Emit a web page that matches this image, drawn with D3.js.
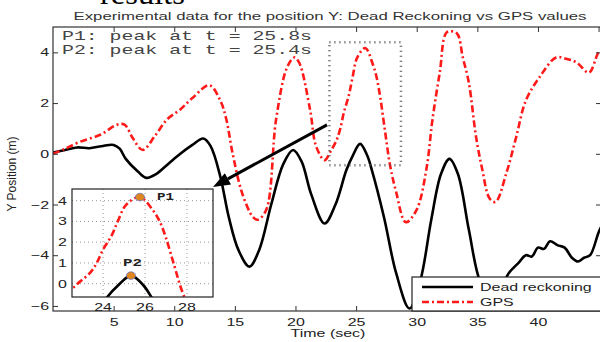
<!DOCTYPE html>
<html><head><meta charset="utf-8">
<script src="https://cdn.jsdelivr.net/npm/d3@7"></script>
<style>
html,body{margin:0;padding:0;background:#fff;}
svg{display:block;}
text{font-family:"Liberation Sans",Arial,Helvetica,sans-serif;}
</style></head>
<body>
<svg id="c" width="600" height="342"></svg>
<script>
// ---------------- data ----------------
const drT = [0,1,2,3,4,5,5.5,6,7,7.7,8.5,9.5,10.5,11.5,12.4,13,13.8,14.5,15.3,16.2,17,18,19,19.8,20.5,21.3,22.4,23.3,24.2,24.7,25.33,25.9,26.3,27.3,28.3,29.4,30.3,31.2,32,32.7,33.4,34.3,35.2,36,36.8,37.6,38.4,39,39.5,40,40.5,41,41.6,42.2,42.8,43.3,43.8,44.3,45,45.3];
const drY = [0.05,0.15,0.25,0.22,0.3,0.35,0.2,-0.2,-0.7,-0.95,-0.8,-0.4,0,0.35,0.6,0.3,-0.9,-2.5,-3.8,-4.45,-3.8,-2,-0.4,0.15,-0.3,-1.6,-2.75,-2.0,-0.64,-0.1,0.39,-0.05,-0.64,-2.5,-4.7,-6.1,-5.0,-2.6,-0.8,-0.2,-0.8,-3.0,-5.0,-5.6,-5.4,-4.7,-4.3,-4.0,-4.05,-3.7,-3.75,-3.45,-3.6,-3.7,-4.1,-4.25,-4.1,-4.0,-3.1,-2.8];

const gpsT = [0,1,2.2,3.9,5.3,5.9,6.6,7.4,8.4,9.4,10.5,11.5,12.9,13.8,14.3,14.8,15.6,16.5,16.9,17.6,18.4,19.3,19.9,20.3,21.2,21.7,22.4,22.9,23.4,23.7,24.0,24.4,24.7,25.1,25.76,26.4,26.7,27.0,27.4,27.8,28.3,29.1,30,30.8,31.3,31.9,32.5,33.3,33.8,34.3,34.9,35.4,36,36.5,37.4,38.2,39,40.1,41.5,42.3,43.2,44.2,45,45.3];
const gpsY = [0,0.2,0.47,0.75,1.15,1.15,0.6,0.15,0.7,1.35,1.75,2.2,2.7,2.1,1.35,0.05,-1.55,-2.5,-2.6,-2.2,1.35,3.4,3.8,3.6,1.75,0.3,-0.25,0.1,0.55,1.0,1.65,2.3,3.0,3.8,4.17,3.5,3.0,2.2,0.85,-0.45,-1.5,-2.7,-2.2,-0.6,1.35,3.2,4.8,4.75,3.8,2.8,0.65,-0.6,-1.75,-1.9,-0.75,0.65,2.1,3.0,3.8,3.75,3.6,3.2,4.0,4.1];

const xTicks = [5,10,15,20,25,30,35,40,45];
const yTicks = [-6,-4,-2,0,2,4];
const insetXTicks = [24,26,28];
const insetYTicks = [0,1,2,3,4];
const peakNames = ["P1","P2"];
const peakT = [25.76,25.33];
const peakY = [4.17,0.39];
const notes = ["P1: peak at t = 25.8s","P2: peak at t = 25.4s"];
const zoomBoxT = [22.8,28.7];
const zoomBoxY = [-0.45,4.4];
const arrowFrom = [22.6,1.14];
const seriesNames = ["Dead reckoning","GPS"];

// ---------------- layout ----------------
const svg = d3.select("#c");
const L=53,R=601,T=27,B=311;
const x = d3.scaleLinear().domain([0,45.2]).range([L,R]);
const y = d3.scaleLinear().domain([-6.2,5.0]).range([B,T]);
const SX = 1.45; // horizontal text stretch
function stretch(sel,f){ sel.each(function(){ const n=this.getComputedTextLength(); this.setAttribute("textLength",n*(f||SX)); this.setAttribute("lengthAdjust","spacingAndGlyphs"); }); }

const drPts = drT.map((t,i)=>[t,drY[i]]);
const gpsPts = gpsT.map((t,i)=>[t,gpsY[i]]);

svg.append("defs").html(`<clipPath id="mainClip"><rect x="${L}" y="${T}" width="${R-L}" height="${B-T}"/></clipPath>`);

// "results" remnant
const rs = svg.append("text").attr("x",100).attr("y",4).attr("font-family","Liberation Serif,Times New Roman,serif")
  .style("font-family","'Liberation Serif','Times New Roman',serif").attr("font-size",30).attr("fill","#000").text("results");
rs.attr("textLength",85).attr("lengthAdjust","spacingAndGlyphs");

// title
svg.append("text").attr("x",330).attr("y",20).attr("text-anchor","middle").attr("font-size",11).attr("fill","#333")
  .text("Experimental data for the position Y: Dead Reckoning vs GPS values")
  .attr("textLength",513).attr("lengthAdjust","spacingAndGlyphs");

// main lines
const line = d3.line().x(d=>x(d[0])).y(d=>y(d[1])).curve(d3.curveCatmullRom.alpha(0.5));
const gm = svg.append("g").attr("clip-path","url(#mainClip)");
gm.append("path").attr("d",line(drPts)).attr("fill","none").attr("stroke","#000").attr("stroke-width",2.6);
gm.append("path").attr("d",line(gpsPts)).attr("fill","none").attr("stroke","#ff1a1a").attr("stroke-width",2.6).attr("stroke-dasharray","7,3,2,3");

// dotted zoom rectangle
svg.append("rect").attr("x",x(zoomBoxT[0])).attr("y",y(zoomBoxY[1]))
  .attr("width",x(zoomBoxT[1])-x(zoomBoxT[0])).attr("height",y(zoomBoxY[0])-y(zoomBoxY[1]))
  .attr("fill","none").attr("stroke","#555").attr("stroke-width",2.5).attr("stroke-dasharray","1,4");

// axes
const ax = svg.append("g");
ax.append("g").attr("transform",`translate(0,${B})`).call(d3.axisBottom(x).tickValues(xTicks).tickSize(-5).tickPadding(7).tickFormat(d=>d===45?"":d));
ax.append("g").attr("transform",`translate(0,${T})`).call(d3.axisTop(x).tickValues(xTicks).tickSize(-5).tickFormat(""));
ax.append("g").attr("transform",`translate(${L},0)`).call(d3.axisLeft(y).tickValues(yTicks).tickSize(-5).tickPadding(4).tickFormat(d=>d<0?"\u2212"+(-d):d));
ax.append("g").attr("transform",`translate(${R},0)`).call(d3.axisRight(y).tickValues(yTicks).tickSize(-5).tickFormat(""));
ax.selectAll(".domain").remove();
ax.selectAll("line").attr("stroke","#333");
ax.selectAll("text").attr("font-size",11).attr("fill","#222").style("font-family","'Liberation Sans',Arial,sans-serif");
svg.append("rect").attr("x",L).attr("y",T).attr("width",R-L).attr("height",B-T).attr("fill","none").attr("stroke","#333").attr("stroke-width",1.2);
stretch(ax.selectAll("text"));

// axis labels
const xl = svg.append("text").attr("x",328).attr("y",337).attr("text-anchor","middle").attr("font-size",11).attr("fill","#222").text("Time (sec)");
stretch(xl);
svg.append("text").attr("transform","translate(16,174) rotate(-90)").attr("text-anchor","middle").attr("font-size",12).attr("fill","#222").text("Y Position (m)");

// annotation notes
svg.selectAll(".note").data(notes).join("text").attr("class","note")
  .attr("x",62).attr("y",(d,i)=>40+i*14).attr("font-size",13.5).attr("fill","#444")
  .style("font-family","'Liberation Mono','Courier New',monospace").text(d=>d)
  .attr("textLength",250).attr("lengthAdjust","spacingAndGlyphs");

// ---------------- inset ----------------
const IL=72,IR=213,IT=189,IB=297;
const xi = d3.scaleLinear().domain([22.52,29.24]).range([IL,IR]);
const yi = d3.scaleLinear().domain([-0.64,4.56]).range([IB,IT]);
svg.select("defs").append("clipPath").attr("id","insetClip").append("rect").attr("x",IL).attr("y",IT).attr("width",IR-IL).attr("height",IB-IT);
const gi = svg.append("g");
gi.append("rect").attr("x",IL).attr("y",IT).attr("width",IR-IL).attr("height",IB-IT).attr("fill","#fff");
gi.selectAll(".gx").data(insetXTicks).join("line").attr("x1",d=>xi(d)).attr("x2",d=>xi(d)).attr("y1",IT).attr("y2",IB)
  .attr("stroke","#999").attr("stroke-width",1).attr("stroke-dasharray","1,3");
gi.selectAll(".gy").data(insetYTicks).join("line").attr("y1",d=>yi(d)).attr("y2",d=>yi(d)).attr("x1",IL).attr("x2",IR)
  .attr("stroke","#999").attr("stroke-width",1).attr("stroke-dasharray","1,3");
const linei = d3.line().x(d=>xi(d[0])).y(d=>yi(d[1])).curve(d3.curveCatmullRom.alpha(0.5));
const gic = gi.append("g").attr("clip-path","url(#insetClip)");
gic.append("path").attr("d",linei(drPts)).attr("fill","none").attr("stroke","#000").attr("stroke-width",2.6);
gic.append("path").attr("d",linei(gpsPts)).attr("fill","none").attr("stroke","#ff1a1a").attr("stroke-width",2.6).attr("stroke-dasharray","7,3,2,3");
gi.selectAll(".pk").data(peakT).join("ellipse").attr("cx",d=>xi(d)).attr("cy",(d,i)=>yi(peakY[i])).attr("rx",4.6).attr("ry",3.8)
  .attr("fill","#e0861f").attr("stroke","#5a6fd0").attr("stroke-width",0.7);
gi.selectAll(".pkl").data(peakNames).join("text").attr("x",(d,i)=>i===0?157:123).attr("y",(d,i)=>i===0?200:266)
  .attr("font-size",10).attr("font-weight","bold").attr("fill","#222").style("font-family","'Liberation Mono','Courier New',monospace").text(d=>d)
  .attr("textLength",(d,i)=>i===0?17:19).attr("lengthAdjust","spacingAndGlyphs");
gi.append("rect").attr("x",IL).attr("y",IT).attr("width",IR-IL).attr("height",IB-IT).attr("fill","none").attr("stroke","#222").attr("stroke-width",1.2);
const itx = gi.selectAll(".itx").data(insetXTicks).join("text").attr("x",d=>xi(d)).attr("y",311).attr("text-anchor","middle")
  .attr("font-size",11).attr("fill","#222").text(d=>d);
stretch(itx);
const ity = gi.selectAll(".ity").data(insetYTicks).join("text").attr("x",67).attr("y",d=>yi(d)+4).attr("text-anchor","end")
  .attr("font-size",11).attr("fill","#222").text(d=>d);
stretch(ity);

// arrow
const ax0 = x(arrowFrom[0]), ay0 = y(arrowFrom[1]);
const tipX = IR, tipY = IT-2;
const dx = tipX-ax0, dy = tipY-ay0, len = Math.hypot(dx,dy), ux=dx/len, uy=dy/len;
const hl=17, hw=6.5;
const bx = tipX-ux*hl, by = tipY-uy*hl;
svg.append("line").attr("x1",ax0).attr("y1",ay0).attr("x2",bx).attr("y2",by).attr("stroke","#000").attr("stroke-width",3);
svg.append("path").attr("d",`M${tipX},${tipY}L${bx-uy*hw},${by+ux*hw}L${bx+uy*hw},${by-ux*hw}Z`).attr("fill","#000");

// ---------------- legend ----------------
const lg = svg.append("g");
lg.append("rect").attr("x",412).attr("y",277).attr("width",R-412).attr("height",B-277).attr("fill","#fff").attr("stroke","#222").attr("stroke-width",1.2);
lg.selectAll(".ll").data(seriesNames).join("line").attr("x1",422).attr("x2",473).attr("y1",(d,i)=>287+i*15).attr("y2",(d,i)=>287+i*15)
  .attr("stroke",(d,i)=>i===0?"#000":"#ff1a1a").attr("stroke-width",2.4).attr("stroke-dasharray",(d,i)=>i===0?null:"7,3,2,3");
const lt = lg.selectAll(".lt").data(seriesNames).join("text").attr("x",480).attr("y",(d,i)=>291+i*15).attr("font-size",11).attr("fill","#222").text(d=>d);
stretch(lt);
</script>
</body></html>
